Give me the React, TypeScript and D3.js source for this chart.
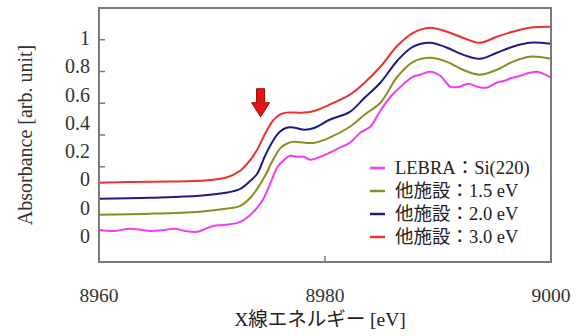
import React from "react";
import * as d3 from "d3";

// ---- data ----
const energyGrid = [8960, 8964.5, 8968.9, 8971.2, 8972.5, 8973.4, 8974.0, 8974.7, 8975.4, 8976.0, 8976.6, 8977.3, 8978.2, 8979.1, 8980.4, 8982.2, 8983.5, 8984.9, 8986.4, 8987.8, 8989.3, 8990.8, 8992.2, 8993.7, 8995.2, 8996.6, 8998.1, 9000];
const red30 = [0.099, 0.106, 0.112, 0.131, 0.175, 0.244, 0.307, 0.408, 0.49, 0.528, 0.541, 0.541, 0.541, 0.553, 0.591, 0.654, 0.729, 0.83, 0.962, 1.044, 1.076, 1.05, 1.013, 0.981, 1.019, 1.05, 1.076, 1.082];
const blue20 = [-0.002, 0.005, 0.017, 0.036, 0.061, 0.112, 0.156, 0.269, 0.364, 0.42, 0.446, 0.446, 0.433, 0.446, 0.496, 0.546, 0.635, 0.729, 0.868, 0.956, 0.981, 0.95, 0.906, 0.88, 0.918, 0.956, 0.981, 0.975];
const olive15 = [-0.102, -0.096, -0.083, -0.065, -0.046, 0.005, 0.061, 0.143, 0.244, 0.313, 0.345, 0.357, 0.351, 0.351, 0.383, 0.452, 0.528, 0.603, 0.767, 0.861, 0.887, 0.861, 0.811, 0.78, 0.811, 0.861, 0.893, 0.88];
const lebraEnergy = [8960.0, 8961.4, 8962.7, 8964.5, 8965.8, 8966.7, 8967.6, 8968.7, 8969.4, 8970.1, 8971.2, 8972.5, 8973.4, 8974.0, 8974.5, 8975.0, 8975.4, 8975.8, 8976.3, 8976.9, 8977.5, 8978.1, 8978.7, 8979.6, 8980.4, 8981.3, 8982.2, 8983.1, 8984.0, 8984.9, 8985.8, 8986.6, 8987.8, 8988.4, 8989.3, 8990.2, 8991.1, 8991.9, 8992.7, 8993.5, 8994.3, 8995.2, 8995.9, 8996.6, 8997.3, 8998.1, 8998.8, 8999.5, 9000];
const lebra = [-0.198, -0.204, -0.191, -0.204, -0.198, -0.191, -0.204, -0.21, -0.191, -0.173, -0.166, -0.147, -0.102, -0.058, -0.008, 0.068, 0.137, 0.2, 0.238, 0.269, 0.263, 0.263, 0.244, 0.263, 0.288, 0.32, 0.351, 0.414, 0.452, 0.553, 0.641, 0.698, 0.767, 0.78, 0.798, 0.773, 0.704, 0.704, 0.723, 0.704, 0.698, 0.729, 0.742, 0.761, 0.773, 0.792, 0.798, 0.78, 0.761];

const seriesNames = ["LEBRA：Si(220)", "他施設：1.5 eV", "他施設：2.0 eV", "他施設：3.0 eV"];
const seriesColors = ["#f23cf2", "#8c8c24", "#1c1c82", "#ec3030"];

const xTicks = [8960, 8980, 9000];
const yTicks = [0.2, 0.4, 0.6, 0.8, 1];
const yTickLabels = ["1", "0.8", "0.6", "0.4", "0.2", "0", "0", "0"];

const arrowEnergy = 8974.3;
const arrowValue = 0.515;

const W = 583;
const H = 336;
const serif = "'Liberation Serif', 'Times New Roman', 'Noto Sans CJK JP', serif";

export default function App() {
  const plot = { left: 99, right: 551, top: 8, bottom: 262 };
  const x = d3.scaleLinear().domain([8960, 9000]).range([plot.left, plot.right]);
  const y = d3.scaleLinear().domain([-0.4, 1.2]).range([plot.bottom, plot.top]);
  const labelPos = d3.scalePoint<number>().domain(yTickLabels.map((_, i) => i)).range([38, 236]);
  const legendPos = d3.scalePoint<number>().domain(seriesNames.map((_, i) => i)).range([168, 237]);

  const line = d3
    .line<[number, number]>()
    .x((d) => x(d[0]))
    .y((d) => y(d[1]))
    .curve(d3.curveCatmullRom.alpha(0.5));

  const series = [
    { e: lebraEnergy, v: lebra },
    { e: energyGrid, v: olive15 },
    { e: energyGrid, v: blue20 },
    { e: energyGrid, v: red30 },
  ];

  const ax = x(arrowEnergy);
  const ay = y(arrowValue);
  const arrowPath = `M${ax},${ay} L${ax - 9},${ay - 14} L${ax - 4},${ay - 14} L${ax - 4},${ay - 28} L${ax + 4},${ay - 28} L${ax + 4},${ay - 14} L${ax + 9},${ay - 14} Z`;

  return (
    <svg
      width={W}
      height={H}
      style={{ position: "absolute", left: 0, top: 0, background: "#fff" }}
      fontFamily={serif}
    >
      <rect x={0} y={0} width={W} height={H} fill="#fff" />
      <defs>
        <clipPath id="plotclip">
          <rect x={plot.left} y={plot.top} width={plot.right - plot.left} height={plot.bottom - plot.top} />
        </clipPath>
      </defs>
      <g clipPath="url(#plotclip)">
        {series.map((s, i) => (
          <path
            key={i}
            d={line(s.e.map((e, j) => [e, s.v[j]] as [number, number])) || ""}
            fill="none"
            stroke={seriesColors[i]}
            strokeWidth={2}
          />
        ))}
      </g>
      {/* frame */}
      <rect
        x={plot.left}
        y={plot.top}
        width={plot.right - plot.left}
        height={plot.bottom - plot.top}
        fill="none"
        stroke="#7a7a7a"
        strokeWidth={2}
      />
      {/* ticks */}
      {yTicks.map((t) => (
        <line key={t} x1={plot.left} x2={plot.left + 6} y1={y(t)} y2={y(t)} stroke="#7a7a7a" strokeWidth={1.5} />
      ))}
      {xTicks.map((t) => (
        <line key={t} x1={x(t)} x2={x(t)} y1={plot.bottom} y2={plot.bottom - 6} stroke="#7a7a7a" strokeWidth={1.5} />
      ))}
      {/* y tick labels */}
      {yTickLabels.map((l, i) => (
        <text key={i} x={90} y={labelPos(i)} dy="0.35em" textAnchor="end" fontSize={20} fill="#333">
          {l}
        </text>
      ))}
      {/* x tick labels */}
      {xTicks.map((t) => (
        <text key={t} x={x(t)} y={302} textAnchor="middle" fontSize={19.5} fill="#333">
          {t}
        </text>
      ))}
      <text x={320} y={326} textAnchor="middle" fontSize={19.5} fill="#222">
        X線エネルギー [eV]
      </text>
      <text transform={`translate(32,135) rotate(-90)`} textAnchor="middle" fontSize={20} fill="#333">
        Absorbance [arb. unit]
      </text>
      {/* legend */}
      {seriesNames.map((n, i) => (
        <g key={i}>
          <line x1={370} x2={385} y1={legendPos(i)} y2={legendPos(i)} stroke={seriesColors[i]} strokeWidth={2.5} />
          <text x={395} y={legendPos(i)} dy="0.35em" fontSize={18.5} fill="#222">
            {n}
          </text>
        </g>
      ))}
      {/* arrow */}
      <path d={arrowPath} fill="#e01515" stroke="#a00000" strokeWidth={1} />
    </svg>
  );
}
